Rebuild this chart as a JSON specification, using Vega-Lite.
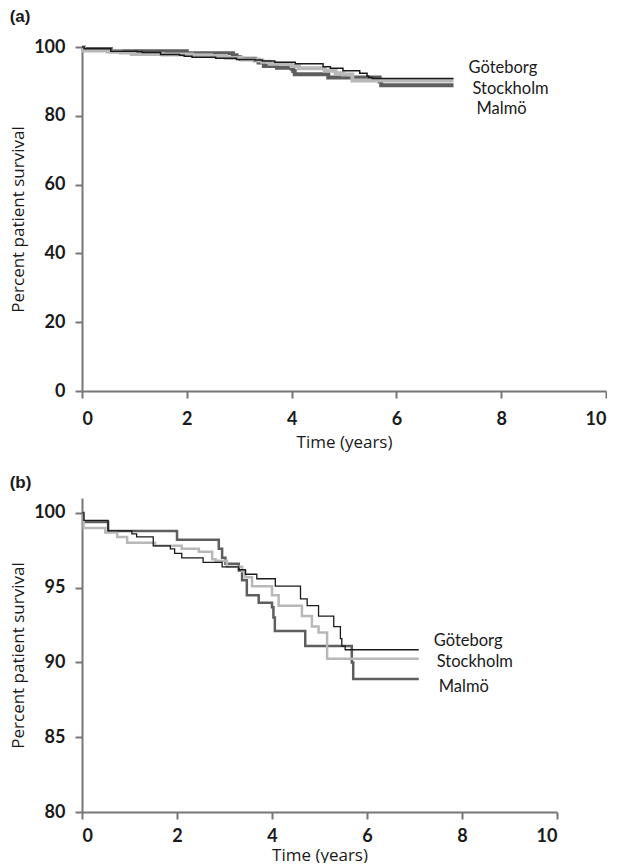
{
  "$schema": "https://vega.github.io/schema/vega-lite/v6.json",
  "background": "white",
  "padding": {"left": 9, "top": 8, "right": 0, "bottom": 0},
  "spacing": 24,
  "config": {
    "view": {"stroke": null},
    "axis": {
      "grid": false,
      "domainColor": "#777777",
      "domainWidth": 2,
      "tickColor": "#777777",
      "tickWidth": 2,
      "tickSize": 7,
      "labelFont": "Lato",
      "labelFontWeight": "bold",
      "labelFontSize": 18,
      "labelColor": "#1a1a1a",
      "labelPadding": 4,
      "titleFont": "Open Sans",
      "titleFontWeight": "normal",
      "titleFontSize": 17,
      "titleColor": "#1a1a1a"
    },
    "axisY": {"labelPadding": 10},
    "title": {"font": "Liberation Sans", "fontSize": 17, "fontWeight": "bold", "color": "#1a1a1a", "anchor": "start", "frame": "bounds"}
  },
  "datasets": {
    "km": [
      {"series": "Göteborg", "t": 0, "s": 100},
      {"series": "Göteborg", "t": 0.04, "s": 99.5},
      {"series": "Göteborg", "t": 0.55, "s": 98.8},
      {"series": "Göteborg", "t": 1.05, "s": 98.6},
      {"series": "Göteborg", "t": 1.15, "s": 98.4},
      {"series": "Göteborg", "t": 1.5, "s": 97.8},
      {"series": "Göteborg", "t": 1.86, "s": 97.6},
      {"series": "Göteborg", "t": 1.95, "s": 97.3},
      {"series": "Göteborg", "t": 2.1, "s": 97.0},
      {"series": "Göteborg", "t": 2.55, "s": 96.7},
      {"series": "Göteborg", "t": 2.95, "s": 96.4},
      {"series": "Göteborg", "t": 3.3, "s": 96.2},
      {"series": "Göteborg", "t": 3.44, "s": 95.9},
      {"series": "Göteborg", "t": 3.68, "s": 95.6},
      {"series": "Göteborg", "t": 4.07, "s": 95.1},
      {"series": "Göteborg", "t": 4.6, "s": 94.25},
      {"series": "Göteborg", "t": 4.74, "s": 93.8},
      {"series": "Göteborg", "t": 4.98, "s": 93.1},
      {"series": "Göteborg", "t": 5.3, "s": 92.4},
      {"series": "Göteborg", "t": 5.44, "s": 91.6},
      {"series": "Göteborg", "t": 5.47, "s": 91.1},
      {"series": "Göteborg", "t": 5.54, "s": 90.85},
      {"series": "Göteborg", "t": 7.09, "s": 90.85},
      {"series": "Stockholm", "t": 0, "s": 100},
      {"series": "Stockholm", "t": 0.035, "s": 99.0},
      {"series": "Stockholm", "t": 0.49, "s": 98.7},
      {"series": "Stockholm", "t": 0.74, "s": 98.4},
      {"series": "Stockholm", "t": 0.95, "s": 98.0},
      {"series": "Stockholm", "t": 1.54, "s": 97.8},
      {"series": "Stockholm", "t": 2.1, "s": 97.6},
      {"series": "Stockholm", "t": 2.46, "s": 97.4},
      {"series": "Stockholm", "t": 2.74, "s": 96.9},
      {"series": "Stockholm", "t": 2.81, "s": 96.8},
      {"series": "Stockholm", "t": 3.05, "s": 96.4},
      {"series": "Stockholm", "t": 3.37, "s": 96.1},
      {"series": "Stockholm", "t": 3.44, "s": 95.7},
      {"series": "Stockholm", "t": 3.58, "s": 95.1},
      {"series": "Stockholm", "t": 4.0, "s": 94.5},
      {"series": "Stockholm", "t": 4.14, "s": 93.8},
      {"series": "Stockholm", "t": 4.63, "s": 93.1},
      {"series": "Stockholm", "t": 4.84, "s": 92.4},
      {"series": "Stockholm", "t": 4.98, "s": 92.0},
      {"series": "Stockholm", "t": 5.16, "s": 90.25},
      {"series": "Stockholm", "t": 7.09, "s": 90.25},
      {"series": "Malmö", "t": 0, "s": 100},
      {"series": "Malmö", "t": 0.035, "s": 99.4},
      {"series": "Malmö", "t": 0.55, "s": 98.8},
      {"series": "Malmö", "t": 2.0, "s": 98.2},
      {"series": "Malmö", "t": 2.88, "s": 97.6},
      {"series": "Malmö", "t": 2.95, "s": 97.0},
      {"series": "Malmö", "t": 3.02, "s": 96.6},
      {"series": "Malmö", "t": 3.3, "s": 96.15},
      {"series": "Malmö", "t": 3.37, "s": 95.5},
      {"series": "Malmö", "t": 3.47, "s": 94.5},
      {"series": "Malmö", "t": 3.72, "s": 94.0},
      {"series": "Malmö", "t": 4.0, "s": 93.7},
      {"series": "Malmö", "t": 4.03, "s": 93.0},
      {"series": "Malmö", "t": 4.06, "s": 92.1},
      {"series": "Malmö", "t": 4.7, "s": 91.1},
      {"series": "Malmö", "t": 5.68, "s": 90.0},
      {"series": "Malmö", "t": 5.71, "s": 88.9},
      {"series": "Malmö", "t": 7.09, "s": 88.9}
    ]
  },
  "vconcat": [
    {
      "title": {"text": "(a)", "offset": 12},
      "width": 524,
      "height": 344,
      "data": {"name": "km"},
      "encoding": {
        "x": {"field": "t", "type": "quantitative", "scale": {"domain": [0, 10], "nice": false}, "axis": {"values": [0, 2, 4, 6, 8, 10], "title": "Time (years)", "labelPadding": 12, "titlePadding": 6}},
        "y": {"field": "s", "type": "quantitative", "scale": {"domain": [0, 100], "nice": false}, "axis": {"values": [0, 20, 40, 60, 80, 100], "title": "Percent  patient survival", "titlePadding": 6}}
      },
      "layer": [
        {"transform": [{"filter": "datum.series === 'Malmö'"}], "mark": {"type": "line", "interpolate": "step-after", "color": "#5e5e5e", "strokeWidth": 4}},
        {"transform": [{"filter": "datum.series === 'Stockholm'"}], "mark": {"type": "line", "interpolate": "step-after", "color": "#b8b8b8", "strokeWidth": 4}},
        {"transform": [{"filter": "datum.series === 'Göteborg'"}], "mark": {"type": "line", "interpolate": "step-after", "color": "#1a1a1a", "strokeWidth": 1.5}},
        {"transform": [{"filter": "datum.series === 'Göteborg' && datum.t === 7.09"}], "mark": {"type": "text", "align": "left", "baseline": "middle", "font": "Lato", "fontSize": 16.5, "color": "#1a1a1a", "dx": 15, "dy": -10}, "encoding": {"text": {"field": "series"}}},
        {"transform": [{"filter": "datum.series === 'Stockholm' && datum.t === 7.09"}], "mark": {"type": "text", "align": "left", "baseline": "middle", "font": "Lato", "fontSize": 16.5, "color": "#1a1a1a", "dx": 19, "dy": 8}, "encoding": {"text": {"field": "series"}}},
        {"transform": [{"filter": "datum.series === 'Malmö' && datum.t === 7.09"}], "mark": {"type": "text", "align": "left", "baseline": "middle", "font": "Lato", "fontSize": 16.5, "color": "#1a1a1a", "dx": 23, "dy": 24}, "encoding": {"text": {"field": "series"}}}
      ]
    },
    {
      "title": {"text": "(b)", "offset": 6},
      "width": 475,
      "height": 314,
      "data": {"name": "km"},
      "encoding": {
        "x": {"field": "t", "type": "quantitative", "scale": {"domain": [0, 10], "nice": false}, "axis": {"values": [0, 2, 4, 6, 8, 10], "title": "Time (years)", "labelPadding": 8, "titlePadding": 2}},
        "y": {"field": "s", "type": "quantitative", "scale": {"domain": [80, 101], "nice": false}, "axis": {"values": [80, 85, 90, 95, 100], "title": "Percent  patient survival", "titlePadding": 6}}
      },
      "layer": [
        {"transform": [{"filter": "datum.series === 'Malmö'"}], "mark": {"type": "line", "interpolate": "step-after", "color": "#5e5e5e", "strokeWidth": 2.5}},
        {"transform": [{"filter": "datum.series === 'Stockholm'"}], "mark": {"type": "line", "interpolate": "step-after", "color": "#b8b8b8", "strokeWidth": 2.5}},
        {"transform": [{"filter": "datum.series === 'Göteborg'"}], "mark": {"type": "line", "interpolate": "step-after", "color": "#1a1a1a", "strokeWidth": 1.3}},
        {"transform": [{"filter": "datum.series === 'Göteborg' && datum.t === 7.09"}], "mark": {"type": "text", "align": "left", "baseline": "middle", "font": "Lato", "fontSize": 16.5, "color": "#1a1a1a", "dx": 15, "dy": -9}, "encoding": {"text": {"field": "series"}}},
        {"transform": [{"filter": "datum.series === 'Stockholm' && datum.t === 7.09"}], "mark": {"type": "text", "align": "left", "baseline": "middle", "font": "Lato", "fontSize": 16.5, "color": "#1a1a1a", "dx": 18, "dy": 3}, "encoding": {"text": {"field": "series"}}},
        {"transform": [{"filter": "datum.series === 'Malmö' && datum.t === 7.09"}], "mark": {"type": "text", "align": "left", "baseline": "middle", "font": "Lato", "fontSize": 16.5, "color": "#1a1a1a", "dx": 20, "dy": 8}, "encoding": {"text": {"field": "series"}}}
      ]
    }
  ]
}
